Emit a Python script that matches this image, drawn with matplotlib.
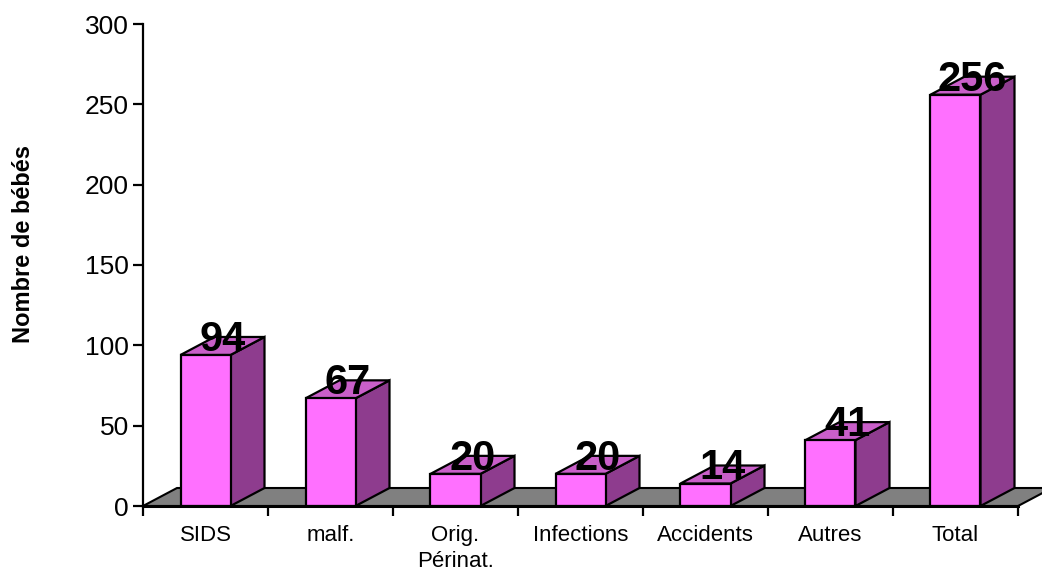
import matplotlib.pyplot as plt
from matplotlib.patches import Polygon

plt.rcParams['font.family'] = ['Liberation Sans', 'DejaVu Sans']

# data
categories = ['SIDS', 'malf.', 'Orig.\nPérinat.', 'Infections', 'Accidents', 'Autres', 'Total']
values = [94, 67, 20, 20, 14, 41, 256]
yticks = [0, 50, 100, 150, 200, 250, 300]

# colours
front_col = '#FF70FF'
top_col = '#C95FC9'
side_col = '#8E3C8E'
floor_col = '#808080'

W, H = 1042, 576
fig = plt.figure(figsize=(W / 100, H / 100), dpi=100)
# axes placed in pixel terms: x 0 -> 143px, y 0 -> 506px, y 300 -> 24px
x0, x1 = 143, 1042
ax = fig.add_axes([x0 / W, (H - 506) / H, (x1 - x0) / W, (506 - 24) / H])
px_per_x = 125.0
ax.set_xlim(0, (x1 - x0) / px_per_x)
ax.set_ylim(0, 300)
px_per_y = (506 - 24) / 300

# depth offset of the 3D look
dx = 34 / px_per_x
dy = 18 / px_per_y
n = len(categories)
bw = 0.4

# floor
floor = Polygon([(0, 0), (n, 0), (n + dx, dy), (dx, dy)], closed=True,
                facecolor=floor_col, edgecolor='black', lw=1.5, zorder=1, clip_on=False)
ax.add_patch(floor)

for i, v in enumerate(values):
    l = i + 0.5 - bw / 2
    r = i + 0.5 + bw / 2
    side = Polygon([(r, 0), (r + dx, dy), (r + dx, v + dy), (r, v)], closed=True,
                   facecolor=side_col, edgecolor='black', lw=1.6, zorder=2, clip_on=False)
    top = Polygon([(l, v), (r, v), (r + dx, v + dy), (l + dx, v + dy)], closed=True,
                  facecolor=top_col, edgecolor='black', lw=1.6, zorder=2, clip_on=False)
    front = Polygon([(l, 0), (r, 0), (r, v), (l, v)], closed=True,
                    facecolor=front_col, edgecolor='black', lw=1.6, zorder=3, clip_on=False)
    ax.add_patch(side)
    ax.add_patch(top)
    ax.add_patch(front)
    ax.text(i + 0.5 + dx / 2, v + 2.5, str(v), ha='center', va='baseline',
            fontsize=30, fontweight='bold', zorder=5)

# axes styling
for s in ['top', 'right', 'bottom']:
    ax.spines[s].set_visible(False)
ax.spines['left'].set_linewidth(1.6)
ax.plot([0, n], [0, 0], color='black', lw=2.2, zorder=4, clip_on=False)

ax.set_yticks(yticks)
ax.tick_params(axis='y', direction='out', length=7, width=1.6, pad=3, labelsize=19)

ax.set_xticks(range(n + 1))
ax.set_xticklabels([])
ax.set_xticks([i + 0.5 for i in range(n)], minor=True)
ax.set_xticklabels(categories, minor=True, fontsize=16, linespacing=1.3)
ax.tick_params(axis='x', which='major', direction='out', length=7, width=1.6)
ax.tick_params(axis='x', which='minor', length=0, pad=14)

fig.text(24 / W, 1 - 244 / H, 'Nombre de bébés', rotation=90, ha='center', va='center',
         fontsize=17, fontweight='bold')

fig.savefig('out.png', dpi=100)
